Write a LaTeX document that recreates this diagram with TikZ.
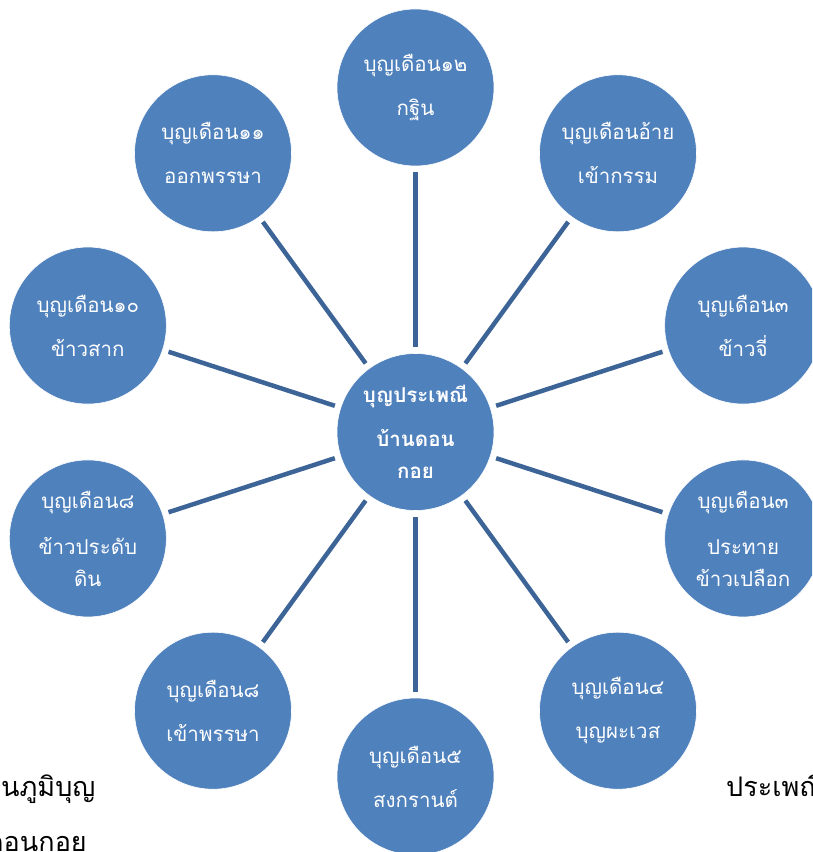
\documentclass[tikz,border=0pt]{standalone}
\usepackage{fontspec}
\newfontfamily\thaifont[Script=Thai]{Loma}
\usepackage{tikz}
\usetikzlibrary{calc}

\definecolor{ringblue}{HTML}{4F81BD}
\definecolor{spokeblue}{RGB}{60,100,150}

\tikzset{
    festival/.style={circle, minimum size=157pt, inner sep=0pt, fill=ringblue,
        draw=white, line width=0.6pt, text=white, align=center,
        font=\thaifont\fontsize{20.5}{32}\selectfont},
    spoke/.style={draw=spokeblue, line width=4.5pt, shorten <=6pt, shorten >=6pt},
    sidetext/.style={anchor=base west, inner sep=0pt, text=black,
        font=\thaifont\fontsize{27}{34}\selectfont}
}

\begin{document}
\begin{tikzpicture}[x=1pt, y=1pt]
        \useasboundingbox (0, 0) rectangle (812, 852);
        \clip (0, 0) rectangle (812, 852);
        \node[festival, font=\thaifont\bfseries\fontsize{20.5}{32}\selectfont] (hub) at (415.5, 420)
            {บุญประเพณี\\[12pt]บ้านดอน\\กอย};
        \foreach \ang/\txt [count=\i] in {
            90/{บุญเดือน๑๒\\[12pt]กฐิน},
            54/{บุญเดือนอ้าย\\[12pt]เข้ากรรม},
            18/{บุญเดือน๓\\[12pt]ข้าวจี่},
            -18/{บุญเดือน๓\\[14pt]ประทาย\\ข้าวเปลือก},
            -54/{บุญเดือน๔\\[12pt]บุญผะเวส},
            -90/{บุญเดือน๕\\[12pt]สงกรานต์},
            -126/{บุญเดือน๘\\[12pt]เข้าพรรษา},
            -162/{บุญเดือน๘\\[14pt]ข้าวประดับ\\ดิน},
            162/{บุญเดือน๑๐\\[12pt]ข้าวสาก},
            126/{บุญเดือน๑๑\\[12pt]ออกพรรษา}} {
            \node[festival] (m\i) at ($(hub) + (\ang:344.5)$) {\txt};
            \draw[spoke] (hub) -- (m\i);
        }
        % cut-off text beside the diagram
        \node[sidetext] (leftA) at (1, 55) {นภูมิบุญ};
        \node[sidetext] (leftB) at (-14, 1) {ดอนกอย};
        \node[sidetext] (rightA) at (726, 55) {ประเพณี};
    \end{tikzpicture}
\end{document}
